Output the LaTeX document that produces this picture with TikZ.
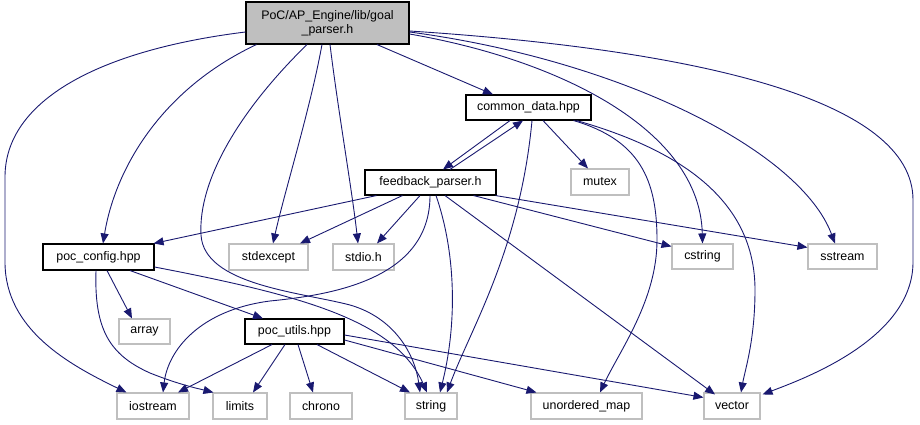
\documentclass[tikz,border=0pt]{standalone}
\usepackage{fontspec}
\setmainfont{Liberation Sans}
\usetikzlibrary{arrows.meta}
\definecolor{edgeblue}{HTML}{191970}
\definecolor{extgray}{HTML}{BFBFBF}
\definecolor{mainfill}{HTML}{BFBFBF}
\begin{document}
\begin{tikzpicture}[x=1pt,y=-1pt,
  base/.style={inner sep=0pt, minimum height=25pt, font=\fontsize{12.4}{14}\selectfont, line width=1.1pt},
  intbox/.style={base, draw=black},
  extbox/.style={base, draw=extgray},
  rootbox/.style={base, draw=black, fill=mainfill, align=center},
  dep/.style={draw=edgeblue, line width=0.9pt, -{Triangle[length=10pt,width=8pt]}}
]
\useasboundingbox (0,0) rectangle (920,425);
% nodes
\node[rootbox, minimum width=163pt, minimum height=42pt] (goal) at (327.5,23) {PoC/AP\_Engine/lib/goal\\\_parser.h};
\node[intbox, minimum width=125pt] (common) at (528.5,107.5) {common\_data.hpp};
\node[intbox, minimum width=131pt] (fp) at (430.5,182.5) {feedback\_parser.h};
\node[extbox, minimum width=58pt, minimum height=26pt] (mutex) at (600,182) {mutex};
\node[intbox, minimum width=111pt, minimum height=26pt] (pc) at (98.5,257) {poc\_config.hpp};
\node[extbox, minimum width=79pt, minimum height=26pt] (stdexcept) at (268.5,257) {stdexcept};
\node[extbox, minimum width=61pt, minimum height=26pt] (stdio) at (363.5,257) {stdio.h};
\node[extbox, minimum width=61pt] (cstring) at (702.5,256.5) {cstring};
\node[extbox, minimum width=69pt] (sstream) at (842.5,256.5) {sstream};
\node[extbox, minimum width=51pt] (array) at (144.5,331.5) {array};
\node[intbox, minimum width=99pt] (pu) at (294.5,331.5) {poc\_utils.hpp};
\node[extbox, minimum width=72pt, minimum height=26pt] (iostream) at (153,406) {iostream};
\node[extbox, minimum width=54pt, minimum height=26pt] (limits) at (240,406) {limits};
\node[extbox, minimum width=62pt, minimum height=26pt] (chrono) at (321,406) {chrono};
\node[extbox, minimum width=52pt, minimum height=26pt] (string) at (431,406) {string};
\node[extbox, minimum width=111pt, minimum height=26pt] (umap) at (586.5,406) {unordered\_map};
\node[extbox, minimum width=56pt, minimum height=26pt] (vector) at (732,406) {vector};
% edges from goal_parser.h
\draw[dep] ([yshift=-9pt]goal.west) .. controls (100,50) and (5,100) .. (5,177) -- (5,262) .. controls (5,330) and (70,365) .. ([xshift=10pt]iostream.north west);
\draw[dep] ([xshift=11pt]goal.south west) .. controls (160,90) and (115,170) .. ([xshift=4.5pt]pc.north);
\draw[dep] ([xshift=-20.5pt]goal.south) .. controls (240,110) and (198,180) .. (201,235) .. controls (204,285) and (300,292) .. (350,305) .. controls (395,318) and (415,355) .. ([xshift=-11pt]string.north);
\draw[dep] ([xshift=-5.5pt]goal.south) .. controls (310,110) and (285,190) .. ([xshift=4.5pt]stdexcept.north);
\draw[dep] ([xshift=2.5pt]goal.south) .. controls (338,110) and (352,190) .. ([xshift=-5.5pt]stdio.north);
\draw[dep] ([xshift=49.5pt]goal.south) -- ([xshift=-35.5pt]common.north);
\draw[dep] ([yshift=-11pt]goal.east) .. controls (560,60) and (700,130) .. (cstring.north);
\draw[dep] ([yshift=-9pt]goal.east) .. controls (620,60) and (800,150) .. ([xshift=-7.5pt]sstream.north);
\draw[dep] ([yshift=-8pt]goal.east) .. controls (700,50) and (913,100) .. (913,200) -- (913,262) .. controls (913,340) and (800,380) .. ([xshift=2pt,yshift=-2pt]vector.north east);
% edges from common_data.hpp
\draw[dep] ([xshift=-18.5pt]common.south) -- ([xshift=12.5pt]fp.north);
\draw[dep] ([xshift=19.5pt]fp.north) -- ([xshift=-5.5pt]common.south);
\draw[dep] ([xshift=14.5pt]common.south) -- ([xshift=-12pt]mutex.north);
\draw[dep] ([xshift=3.5pt]common.south) .. controls (520,250) and (470,330) .. ([xshift=16pt]string.north);
\draw[dep] ([xshift=-18pt]common.south east) .. controls (640,140) and (657,180) .. (657,240) .. controls (657,300) and (620,350) .. ([xshift=13.5pt]umap.north);
\draw[dep] ([xshift=-15pt]common.south east) .. controls (680,150) and (755,200) .. (755,290) .. controls (755,340) and (745,370) .. ([xshift=9pt]vector.north);
% edges from feedback_parser.h
\draw[dep] ([xshift=12pt]fp.south west) -- ([xshift=-1pt]pc.north east);
\draw[dep] ([xshift=38pt]fp.south west) -- ([xshift=31.5pt]stdexcept.north);
\draw[dep] ([xshift=-10.5pt]fp.south) -- ([xshift=13.5pt]stdio.north);
\draw[dep] ([xshift=-0.5pt]fp.south) .. controls (430,280) and (330,295) .. (270,301) .. controls (200,310) and (168,350) .. ([xshift=10pt]iostream.north);
\draw[dep] ([xshift=5.5pt]fp.south) .. controls (455,250) and (458,320) .. ([xshift=9pt]string.north);
\draw[dep] ([xshift=14.5pt]fp.south) -- ([xshift=-17pt,yshift=-2pt]vector.north);
\draw[dep] ([xshift=-23pt]fp.south east) -- ([yshift=-3pt]cstring.north west);
\draw[dep] ([xshift=-1pt]fp.south east) -- ([yshift=-4pt]sstream.north west);
% edges from poc_config.hpp
\draw[dep] ([xshift=8.5pt]pc.south) -- ([xshift=-12.5pt]array.north);
\draw[dep] ([xshift=31.5pt]pc.south) -- ([xshift=-31.5pt]pu.north);
\draw[dep] ([yshift=-10pt]pc.east) .. controls (300,295) and (395,320) .. ([xshift=-4pt]string.north);
\draw[dep] ([xshift=-2.5pt]pc.south) .. controls (94,330) and (110,355) .. (150,373) .. controls (180,385) and (200,389) .. ([xshift=1pt]limits.north west);
% edges from poc_utils.hpp
\draw[dep] ([xshift=-22.5pt]pu.south) -- ([xshift=25pt]iostream.north);
\draw[dep] ([xshift=-9.5pt]pu.south) -- ([xshift=13pt]limits.north);
\draw[dep] ([xshift=3.5pt]pu.south) -- ([xshift=-8pt]chrono.north);
\draw[dep] ([xshift=22.5pt]pu.south) -- ([xshift=-21pt]string.north);
\draw[dep] ([yshift=-8.5pt]pu.east) -- ([xshift=6pt]umap.north west);
\draw[dep] ([yshift=-3.5pt]pu.east) -- ([yshift=-5pt]vector.north west);
\end{tikzpicture}
\end{document}
